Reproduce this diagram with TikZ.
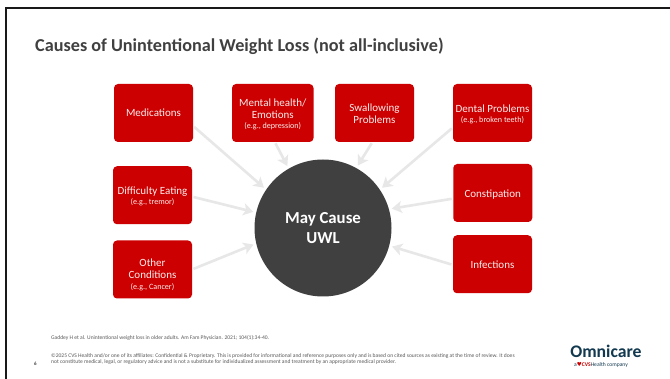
\documentclass[tikz,border=0pt]{standalone}
\usepackage{fontspec}
\setmainfont{Carlito}
\newfontfamily\symfont{DejaVu Sans}
\usetikzlibrary{arrows.meta}
\definecolor{boxred}{HTML}{CC0000}
\definecolor{hubgray}{HTML}{404040}
\definecolor{arrowgray}{HTML}{E7E7E7}
\definecolor{omniblue}{HTML}{12394F}
\definecolor{titlegray}{HTML}{404040}
\definecolor{footgray}{HTML}{595959}
\newcommand{\egnote}[1]{{\fontsize{8.1}{9}\selectfont #1}}
\newcommand{\dropline}[1]{\rule{0pt}{#1}}
\tikzset{
  causebox/.style={fill=boxred,draw=none,rounded corners=4pt,inner sep=0pt,outer sep=0pt,
    minimum width=79pt,minimum height=58pt,align=center,text=white!93!boxred,font=\fontsize{11}{12}\selectfont},
  causearrow/.style={draw=arrowgray,line width=2.6pt,
    -{Stealth[length=10pt,width=12pt,inset=2.5pt]},shorten <=1.5pt,shorten >=3pt},
  footnote/.style={anchor=west,inner sep=0pt,text=footgray,font=\fontsize{5.55}{6}\selectfont},
}
\begin{document}
\begin{tikzpicture}[x=1pt,y=-1pt]
\useasboundingbox (0,0) rectangle (670,379);
\fill[white] (0,0) rectangle (670,379);
\fill[black!90] (4.5,7) rectangle (670,9);
\fill[black!90] (4.5,7) rectangle (6.5,379);
\node[anchor=west,inner sep=0pt,text=titlegray,font=\fontsize{18.2}{20}\bfseries\selectfont] (title) at (35,46) {Causes of Unintentional Weight Loss (not all-inclusive)};
\node[circle,fill=hubgray,draw=none,minimum size=137pt,inner sep=0pt,outer sep=0pt,align=center,text=white,font=\fontsize{16.8}{20}\bfseries\selectfont] (hub) at (323,228) {May Cause\\UWL};
\node[causebox] (med) at (153.5,113) {Medications};
\node[causebox,minimum width=81.5pt] (mental) at (272.75,113) {\dropline{10pt}Mental health/\\Emotions\\[-1.5pt]\egnote{(e.g., depression)}};
\node[causebox] (swallow) at (374.5,113) {\dropline{10pt}Swallowing\\Problems};
\node[causebox] (dental) at (492.5,113) {\dropline{10pt}Dental Problems\\[-1.5pt]\egnote{(e.g., broken teeth)}};
\node[causebox] (eating) at (152.5,195.25) {\dropline{10pt}Difficulty Eating\\[-1.5pt]\egnote{(e.g., tremor)}};
\node[causebox] (other) at (152.5,269.5) {\dropline{18pt}Other\\Conditions\\[-1.5pt]\egnote{(e.g., Cancer)}};
\node[causebox] (constip) at (492.75,193) {\dropline{10pt}Constipation};
\node[causebox] (infect) at (492.5,264.25) {Infections};
\draw[causearrow] (med.-18.6) -- (hub.146.4);
\draw[causearrow] (mental.-86) -- (hub.120.3);
\draw[causearrow] (swallow.-94.6) -- (hub.61.5);
\draw[causearrow] (dental.200.3) -- (hub.34.5);
\draw[causearrow] (eating.-2.4) -- (hub.167.5);
\draw[causearrow] (other.-0.7) -- (hub.193.4);
\draw[causearrow] (constip.188.4) -- (hub.16.3);
\draw[causearrow] (infect.181) -- (hub.-15.8);
\node[footnote] (cite) at (51,338) {Gaddey H et al. Unintentional weight loss in older adults. Am Fam Physician. 2021; 104(1):34-40.};
\node[footnote] (copy1) at (51,356) {©2025 CVS Health and/or one of its affiliates: Confidential \& Proprietary. This is provided for informational and reference purposes only and is based on cited sources as existing at the time of review. It does};
\node[footnote] (copy2) at (51,362) {not constitute medical, legal, or regulatory advice and is not a substitute for individualized assessment and treatment by an appropriate medical provider.};
\node[anchor=center,inner sep=0pt,text=titlegray,font=\fontsize{5}{6}\bfseries\selectfont] (page) at (35.5,364) {6};
\node[anchor=center,inner sep=0pt,text=omniblue,font=\fontsize{17.7}{19}\bfseries\selectfont] (logo) at (606,351.5) {Omnicare};
\node[anchor=center,inner sep=0pt,text=omniblue,font=\fontsize{5.6}{6}\selectfont] (tag) at (601,365) {a{\color{boxred}\symfont ♥}{\color{boxred}\bfseries CVS}Health company};
\end{tikzpicture}
\end{document}
